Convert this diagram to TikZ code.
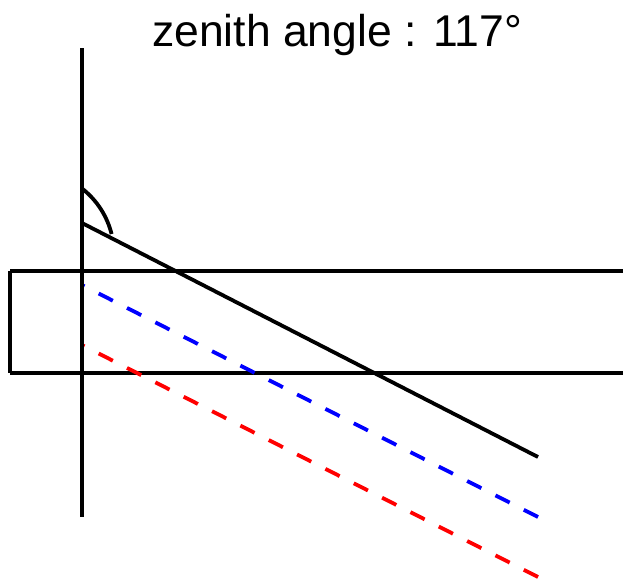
\documentclass[tikz,border=0pt]{standalone}
\usepackage{fontspec}
\setmainfont{Liberation Sans}
\begin{document}
\begin{tikzpicture}[x=1pt,y=-1pt,
  solidline/.style={line width=3.8pt},
  ray/.style={line width=3.8pt, dash pattern=on 15.9pt off 15.9pt}]
\useasboundingbox (0,0) rectangle (623,581);
\node[font=\fontsize{44.5}{52}\selectfont, inner sep=0, anchor=base] (title) at (337,46) {zenith angle : 117°};
\coordinate (vtop) at (82,48);
\coordinate (vbot) at (82,517);
\coordinate (o) at (82,223);
\coordinate (arcstart) at (82.9,189.2);
\coordinate (bend) at (538,457);
\coordinate (b0) at (82,285);
\coordinate (b1) at (538,517);
\coordinate (r0) at (82,345);
\coordinate (r1) at (538,577);
\draw[solidline] (10,271) -- (630,271);
\draw[solidline] (10,373) -- (630,373);
\draw[solidline] (10,271) -- (10,373);
\draw[ray, blue] (b1) -- (b0);
\draw[ray, red] (r1) -- (r0);
\draw[solidline] (vtop) -- (vbot);
\draw[solidline] (o) -- (bend);
\draw[solidline] (arcstart) arc[start angle=-51.3, end angle=-13.9, radius=83];
\end{tikzpicture}
\end{document}
